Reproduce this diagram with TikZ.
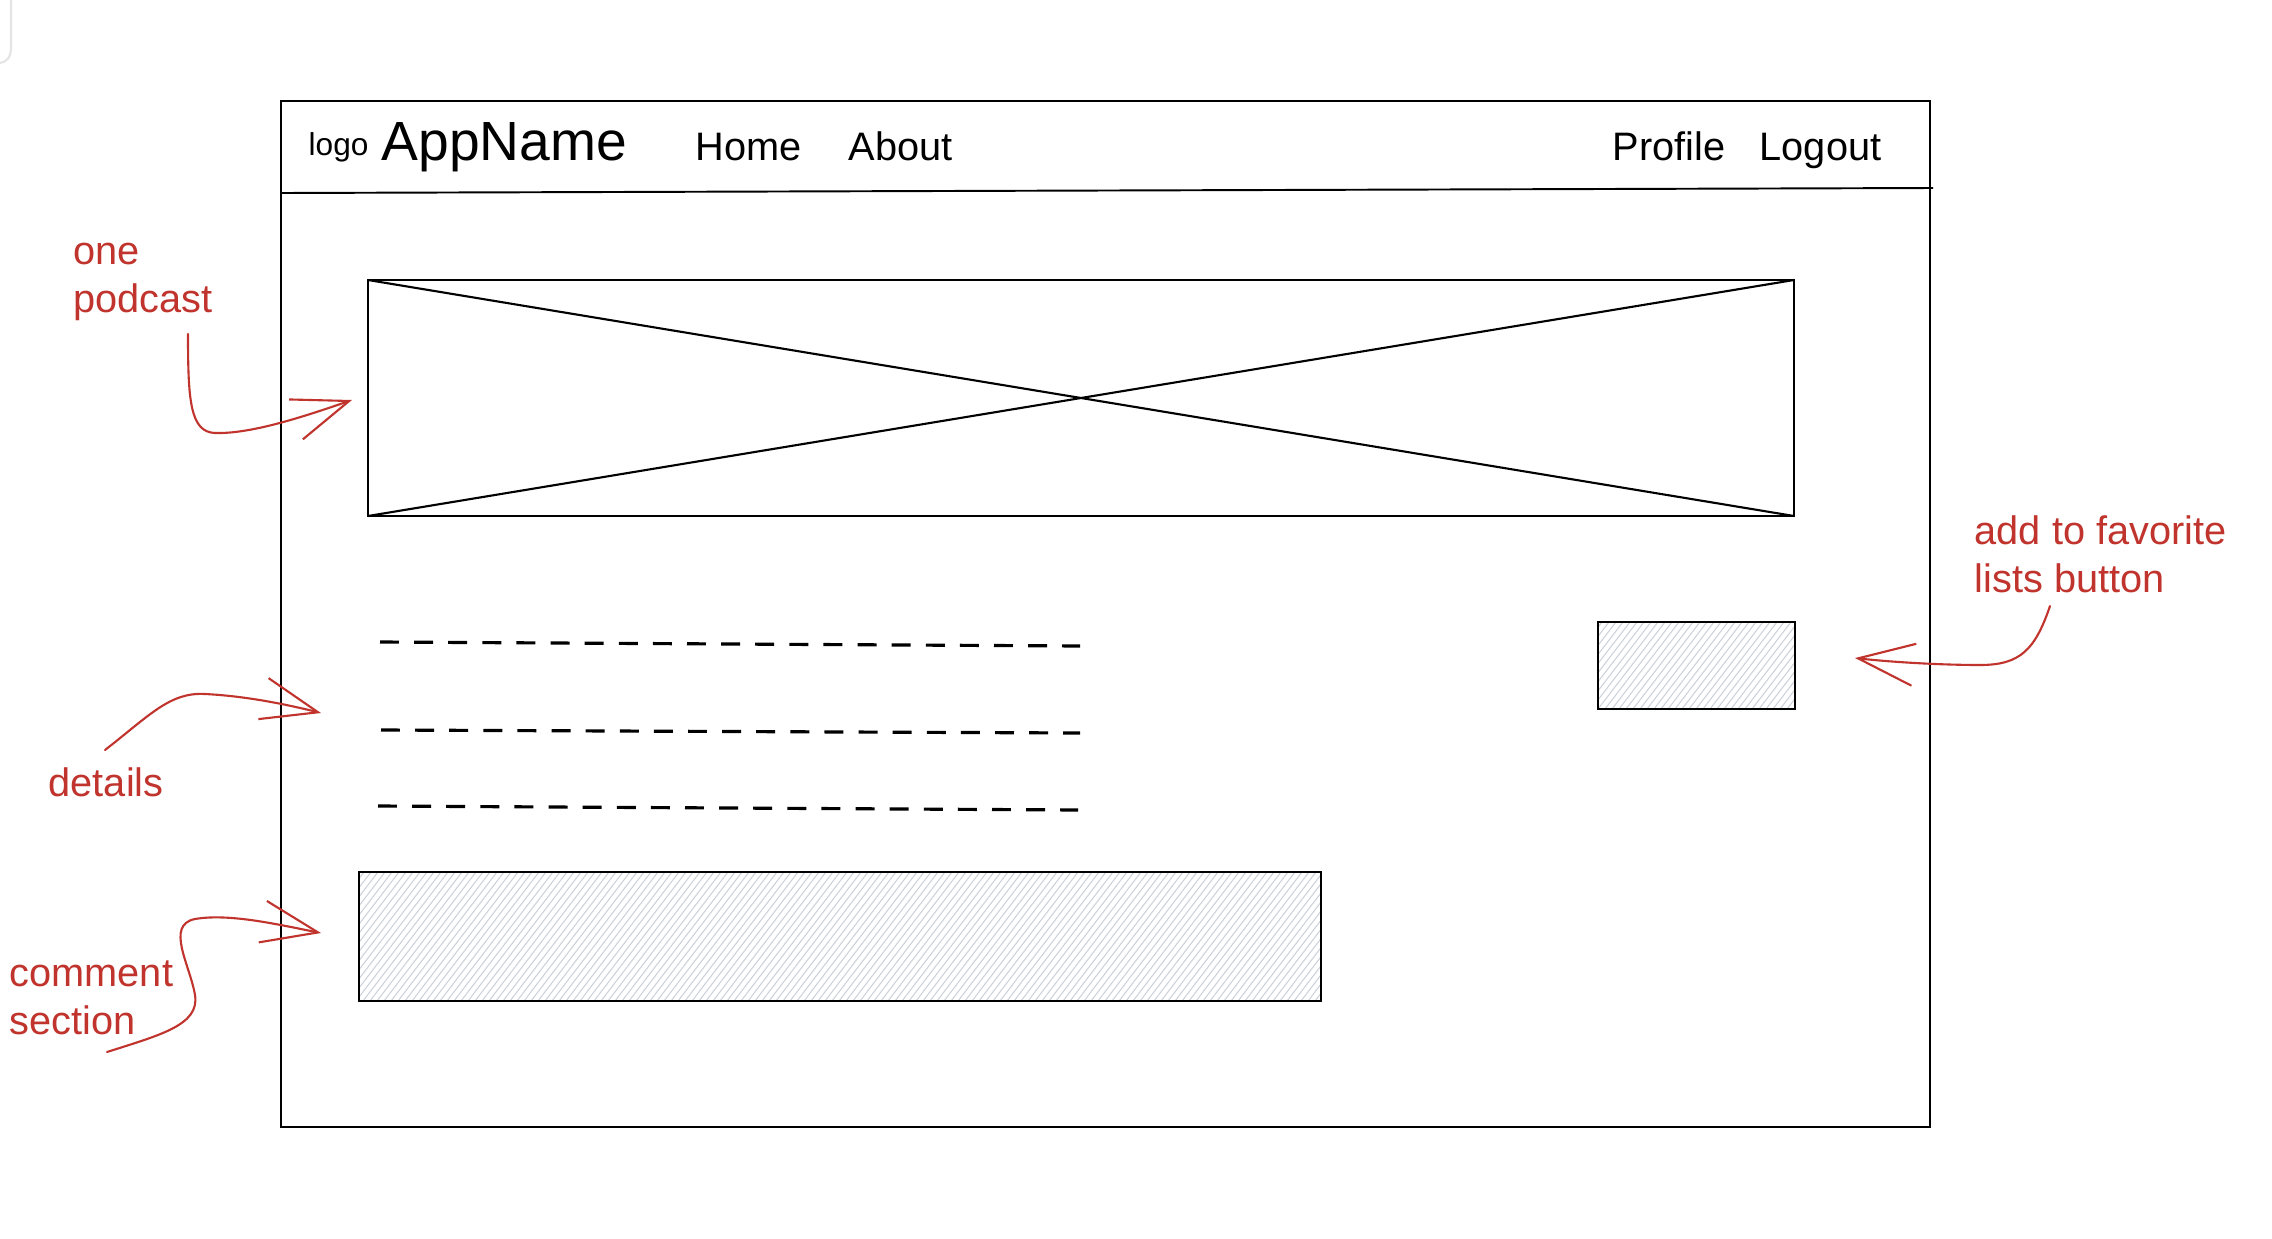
\documentclass[tikz,border=0pt]{standalone}
\usepackage{fontspec}
\setmainfont{Liberation Sans}
\usetikzlibrary{arrows.meta,fit}
\definecolor{notered}{RGB}{192,52,45}
\definecolor{hatchgray}{RGB}{205,210,218}
\definecolor{faintgray}{RGB}{228,228,228}
\begin{document}
\begin{tikzpicture}[x=0.01cm,y=-0.01cm,
  frame/.style={draw=black, line width=0.55pt},
  wbox/.style={draw=black, line width=0.65pt, inner sep=0pt, outer sep=0pt},
  diag/.style={draw=black, line width=0.6pt},
  hatch/.style={draw=hatchgray, line width=0.3pt},
  placeholder/.style={draw=black, dash pattern=on 5.4pt off 4.3pt, line width=0.9pt},
  nav/.style={font=\fontsize{11.3}{13.5}\selectfont, anchor=base west, inner sep=0pt},
  note/.style={text=notered, font=\fontsize{11.3}{13.4}\selectfont, align=left, anchor=base west, inner sep=0pt},
  notearrow/.style={draw=notered, line width=0.6pt, line cap=round, line join=round,
    -{Straight Barb[length=16pt,width=12pt]}}
]
% canvas
\path[use as bounding box, fill=white] (0,0) rectangle (2272,1239);
\draw[faintgray, line width=0.6pt] (11,0) -- (11,48) .. controls (11,58) and (6,62) .. (0,63);

% page frame
\coordinate (pgNW) at (281,101);
\coordinate (pgSE) at (1930,1127);
\node[wbox, line width=0.55pt, fit=(pgNW)(pgSE)] (page) {};
\coordinate (hdrL) at (281,193);
\coordinate (hdrR) at (1933,188);
\draw[frame] (hdrL) -- (hdrR);

% nav bar
\node[nav, font=\fontsize{9}{11}\selectfont] (logo) at (308,155) {logo};
\node[nav, font=\fontsize{15.7}{18}\selectfont] (appname) at (381,160) {AppName};
\node[nav] (home) at (695,160) {Home};
\node[nav] (about) at (848,160) {About};
\node[nav] (profile) at (1612,160) {Profile};
\node[nav] (logout) at (1759,160) {Logout};

% podcast image placeholder
\coordinate (podNW) at (368,280);
\coordinate (podSE) at (1794,516);
\node[wbox, fit=(podNW)(podSE)] (podcast) {};
\draw[diag] (podcast.north west) -- (podcast.south east);
\draw[diag] (podcast.south west) -- (podcast.north east);

% detail lines
\coordinate (d1a) at (380,642);  \coordinate (d1b) at (1080,646);
\coordinate (d2a) at (381,730);  \coordinate (d2b) at (1080,733);
\coordinate (d3a) at (378,806);  \coordinate (d3b) at (1078,810);
\draw[placeholder] (d1a) -- (d1b);
\draw[placeholder] (d2a) -- (d2b);
\draw[placeholder] (d3a) -- (d3b);

% favourite button
\coordinate (favNW) at (1598,622);
\coordinate (favSE) at (1795,709);
\begin{scope}
  \clip (favNW) rectangle (favSE);
  \foreach \x in {1528,1535,...,1800} \draw[hatch] (\x,709) -- ++(67,-87);
\end{scope}
\node[wbox, fit=(favNW)(favSE)] (fav) {};

% comment section
\coordinate (cmNW) at (359,872);
\coordinate (cmSE) at (1321,1001);
\begin{scope}
  \clip (cmNW) rectangle (cmSE);
  \foreach \x in {258,265,...,1325} \draw[hatch] (\x,1001) -- ++(99,-129);
\end{scope}
\node[wbox, fit=(cmNW)(cmSE)] (comment) {};

% annotations (anchor = baseline of the last line)
\node[note] (lblpod) at (73,312) {one\\podcast};
\node[note] (lbldet) at (48,796) {details};
\node[note] (lblcom) at (9,1034) {comment\\section};
\node[note] (lblfav) at (1974,592) {add to favorite\\lists button};

\coordinate (a1s) at (188,334);  \coordinate (a1t) at (352,400);
\coordinate (a2s) at (105,750);  \coordinate (a2t) at (321,713);
\coordinate (a3s) at (107,1052); \coordinate (a3t) at (321,933);
\coordinate (a4s) at (2050,606); \coordinate (a4t) at (1855,658);

\draw[notearrow] (a1s) .. controls (188,400) and (190,432) .. (215,433)
  .. controls (250,434) and (300,418) .. (a1t);
\draw[notearrow] (a2s) .. controls (150,715) and (170,692) .. (205,694)
  .. controls (245,696) and (285,704) .. (a2t);
\draw[notearrow] (a3s) .. controls (160,1035) and (200,1025) .. (195,995)
  .. controls (190,965) and (165,925) .. (195,919)
  .. controls (230,913) and (280,925) .. (a3t);
\draw[notearrow] (a4s) .. controls (2035,650) and (2020,665) .. (1980,665)
  .. controls (1940,665) and (1890,662) .. (a4t);
\end{tikzpicture}
\end{document}
